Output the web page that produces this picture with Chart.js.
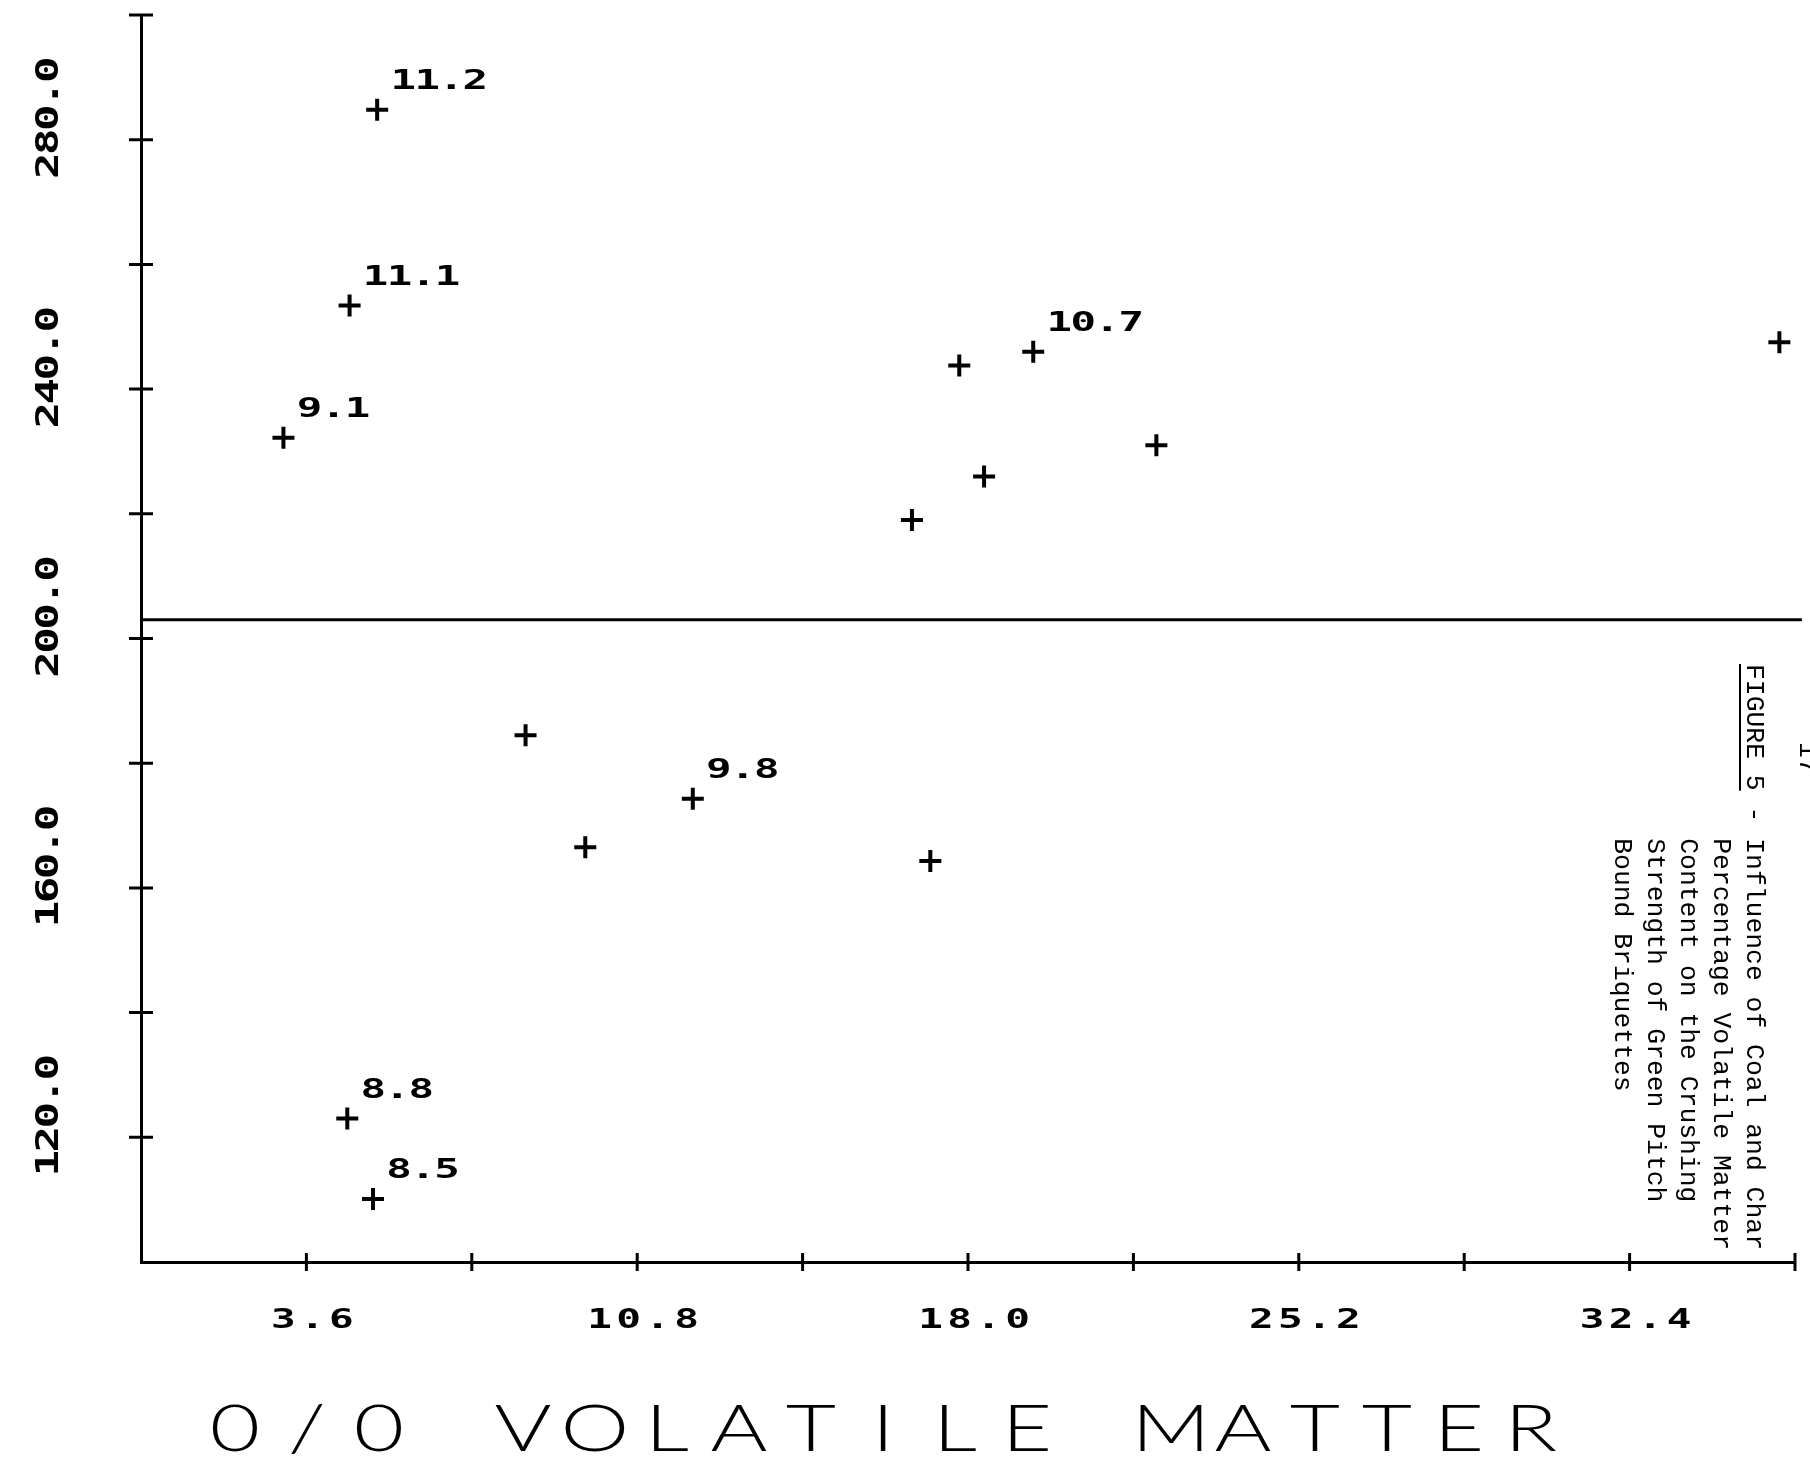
<!DOCTYPE html>
<html>
<head>
<meta charset="utf-8">
<title>Figure 5 - Crushing strength against volatile matter</title>
<script src="https://cdn.jsdelivr.net/npm/chart.js@4/dist/chart.umd.min.js"></script>
<style>
  html, body { margin: 0; padding: 0; background: #fff; }
  #wrap { width: 1810px; height: 1464px; }
</style>
</head>
<body>
<div id="wrap"><canvas id="strengthChart" width="1810" height="1464"></canvas></div>
<script>
// readings taken off the plotter sheet
const volatileMatter   = [5.14, 4.54, 3.10, 17.81, 19.42, 35.66, 22.10, 18.35, 16.78, 8.37, 12.01, 9.67, 17.18, 4.49, 5.05];
const crushingStrength = [284.8, 253.4, 232.2, 243.8, 246.0, 247.5, 231.0, 226.0, 219.0, 184.5, 174.3, 166.5, 164.3, 123.0, 110.1];
const pointNotes       = ['11.2', '11.1', '9.1', null, '10.7', null, null, null, null, null, '9.8', null, null, '8.8', '8.5'];

const xLabelledTicks = [3.6, 10.8, 18.0, 25.2, 32.4];
const yLabelledTicks = [120, 160, 200, 240, 280];
const referenceLevel = 203;

const axisTitle = '0/0 VOLATILE MATTER';
const captionLines = [
  'FIGURE 5 - Influence of Coal and Char',
  '           Percentage Volatile Matter',
  '           Content on the Crushing',
  '           Strength of Green Pitch',
  '           Bound Briquettes'
];
const pageNumber = '17';

const MONO = '"DejaVu Sans Mono", monospace';

// fixed pitch plotter lettering, one character per cell, glyphs stretched wide
function plotText(ctx, text, x, cy, o) {
  const size = o.cap / 0.73;
  ctx.save();
  ctx.translate(x, cy);
  ctx.rotate(o.rotate || 0);
  ctx.font = (o.weight || 'normal') + ' ' + size + 'px ' + (o.family || MONO);
  ctx.textAlign = 'center';
  ctx.textBaseline = 'alphabetic';
  ctx.fillStyle = '#000';
  let start = -o.cell * (text.length - 1) / 2;
  if (o.align === 'left') start = o.cell / 2;
  for (let i = 0; i < text.length; i++) {
    ctx.save();
    ctx.translate(start + i * o.cell, o.cap / 2);
    ctx.scale(o.stretch, 1);
    ctx.fillText(text[i], 0, 0);
    ctx.restore();
  }
  ctx.restore();
}

const plotterMarks = {
  id: 'plotterMarks',
  afterDraw(chart) {
    const ctx = chart.ctx;
    const xs = chart.scales.x, ys = chart.scales.y;
    const area = chart.chartArea;

    // tick marks cross the axis on both sides
    ctx.save();
    ctx.strokeStyle = '#000';
    ctx.lineWidth = 3;
    ctx.beginPath();
    ys.ticks.forEach(t => {
      if (t.value === ys.min) return;
      const py = ys.getPixelForValue(t.value);
      ctx.moveTo(area.left - 12, py);
      ctx.lineTo(area.left + 12, py);
    });
    xs.ticks.forEach(t => {
      if (t.value === xs.min) return;
      const px = xs.getPixelForValue(t.value);
      ctx.moveTo(px, area.bottom - 9);
      ctx.lineTo(px, area.bottom + 9);
    });
    ctx.stroke();
    ctx.restore();

    yLabelledTicks.forEach(v => {
      plotText(ctx, v.toFixed(1), 46, ys.getPixelForValue(v) - 22,
        { cap: 23, cell: 24, stretch: 1.4, weight: 'bold', rotate: -Math.PI / 2 });
    });
    xLabelledTicks.forEach(v => {
      plotText(ctx, v.toFixed(1), xs.getPixelForValue(v) + 6, 1318,
        { cap: 20, cell: 29, stretch: 1.5, weight: 'bold' });
    });

    plotText(ctx, axisTitle, 883, 1427,
      { cap: 47, cell: 72, stretch: 1.35, weight: '300', family: 'Lato, sans-serif' });

    // numbers written beside some of the crosses
    const meta = chart.getDatasetMeta(0);
    meta.data.forEach((el, i) => {
      if (!pointNotes[i]) return;
      plotText(ctx, pointNotes[i], el.x + 14, el.y - 31,
        { cap: 20, cell: 24, stretch: 1.55, weight: 'bold', align: 'left' });
    });

    // typed caption, turned to read downward
    ctx.save();
    ctx.fillStyle = '#000';
    ctx.font = '26.4px "Liberation Mono", monospace';
    ctx.textBaseline = 'alphabetic';
    captionLines.forEach((line, i) => {
      ctx.save();
      ctx.translate(1747 - i * 33, 664);
      ctx.rotate(Math.PI / 2);
      ctx.fillText(line, 0, 0);
      if (i === 0) {
        const w = ctx.measureText('FIGURE 5').width;
        ctx.fillRect(0, 6, w, 2);
      }
      ctx.restore();
    });
    ctx.translate(1800, 742);
    ctx.rotate(Math.PI / 2);
    ctx.fillText(pageNumber, 0, 0);
    ctx.restore();
  }
};

new Chart(document.getElementById('strengthChart'), {
  type: 'scatter',
  data: {
    datasets: [
      {
        label: 'Green crushing strength',
        data: volatileMatter.map((v, i) => ({ x: v, y: crushingStrength[i] })),
        pointStyle: 'cross',
        pointRadius: 11,
        pointBorderWidth: 4,
        pointBorderColor: '#000',
        pointBackgroundColor: '#000'
      },
      {
        type: 'line',
        label: 'reference',
        data: [{ x: 0, y: referenceLevel }, { x: 36.15, y: referenceLevel }],
        borderColor: '#000',
        borderWidth: 3,
        pointRadius: 0,
        clip: false
      }
    ]
  },
  options: {
    responsive: false,
    animation: false,
    events: [],
    layout: { padding: { top: 11, right: 6, left: 0, bottom: 0 } },
    plugins: { legend: { display: false }, tooltip: { enabled: false } },
    scales: {
      x: {
        type: 'linear',
        min: 0,
        max: 36,
        ticks: { stepSize: 3.6, display: false },
        grid: { display: false },
        border: { color: '#000', width: 3 },
        afterFit(s) { s.height = 202; }
      },
      y: {
        min: 100,
        max: 300,
        ticks: { stepSize: 20, display: false },
        grid: { display: false },
        border: { color: '#000', width: 3 },
        afterFit(s) { s.width = 141; }
      }
    }
  },
  plugins: [plotterMarks]
});
</script>
</body>
</html>
